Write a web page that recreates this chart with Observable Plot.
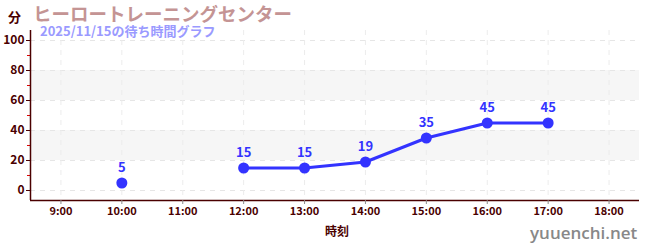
<!DOCTYPE html>
<html><head><meta charset="utf-8">
<script src="https://cdn.jsdelivr.net/npm/d3@7"></script>
<script src="https://cdn.jsdelivr.net/npm/@observablehq/plot@0.6"></script>
<style>
body{margin:0;background:#fff;}
#wrap{position:relative;width:650px;height:250px;font-family:"Noto Sans CJK JP",sans-serif;}
.t{position:absolute;white-space:nowrap;font-weight:bold;line-height:1;}
</style></head>
<body><div id="wrap"></div>
<script>
const title = "ヒーロートレーニングセンター";
const subtitle = "2025/11/15の待ち時間グラフ";
const yLabel = "分";
const xLabel = "時刻";
const watermark = "yuuenchi.net";
const hours = [10, 11, 12, 13, 14, 15, 16, 17];
const waits = [5, null, 15, 15, 19, 35, 45, 45];
const xTicks = [9, 10, 11, 12, 13, 14, 15, 16, 17, 18];
const yTicks = [0, 20, 40, 60, 80, 100];
const yMinor = [10, 30, 50, 70, 90];
const bands = [[20, 40], [60, 80]];

const data = hours.map((h, i) => ({h, v: waits[i]}));
const pts = data.filter(d => d.v != null);
const maroon = "#4a0000";
const blue = "#3333ff";

const chart = Plot.plot({
  width: 650, height: 250,
  marginLeft: 30, marginRight: 11, marginTop: 30, marginBottom: 50,
  style: {fontFamily: "'Noto Sans CJK JP', sans-serif", fontSize: "11px", background: "white"},
  x: {domain: [8.5, 18.5], axis: null, label: null},
  y: {domain: [-6.67, 106.67], axis: null, label: null},
  marks: [
    Plot.rect(bands, {y1: d => d[0], y2: d => d[1], fill: "#f6f6f6"}),
    Plot.ruleY(yTicks, {stroke: "#e6e6e6", strokeDasharray: "5,5"}),
    Plot.ruleX(xTicks, {stroke: "#ececec", strokeDasharray: "5,5"}),
    Plot.axisY(yMinor, {tickSize: 3, stroke: "#dd0000", text: null, anchor: "left", label: null}),
    Plot.axisY(yTicks, {tickSize: 4, stroke: maroon, fill: maroon, fontWeight: "bold", fontSize: 12, tickPadding: 2, anchor: "left", label: null}),
    Plot.ruleX([8.5], {stroke: maroon, strokeWidth: 1.5}),
    Plot.ruleY([-6.67], {stroke: maroon, strokeWidth: 1.5}),
    Plot.axisX(xTicks, {tickSize: 4, stroke: "#888", fill: maroon, fontWeight: "bold", fontSize: 11, tickPadding: 3, anchor: "bottom", label: null, tickFormat: d => d + ":00"}),
    Plot.line(data, {x: "h", y: "v", stroke: blue, strokeWidth: 3}),
    Plot.dot(pts, {x: "h", y: "v", r: 5.5, fill: blue}),
    Plot.text(pts, {x: "h", y: "v", text: d => String(d.v), dy: -15, fill: blue, fontWeight: "bold", fontSize: 13})
  ]
});
const wrap = document.getElementById("wrap");
wrap.appendChild(chart);
function addText(txt, css) {
  const d = document.createElement("div");
  d.className = "t"; d.textContent = txt;
  Object.assign(d.style, css);
  wrap.appendChild(d);
}
addText(yLabel, {left: "8px", top: "10px", fontSize: "13px", color: maroon});
addText(title, {left: "33px", top: "4px", fontSize: "18.5px", color: "#c49494"});
addText(subtitle, {left: "40px", top: "24px", fontSize: "13px", color: "#9a9aff"});
addText(xLabel, {left: "325px", top: "225px", fontSize: "12px", color: maroon});
addText(watermark, {left: "530px", top: "224px", fontSize: "17px", color: "#888", fontFamily: "'Open Sans',sans-serif", fontWeight: "600"});
</script></body></html>
